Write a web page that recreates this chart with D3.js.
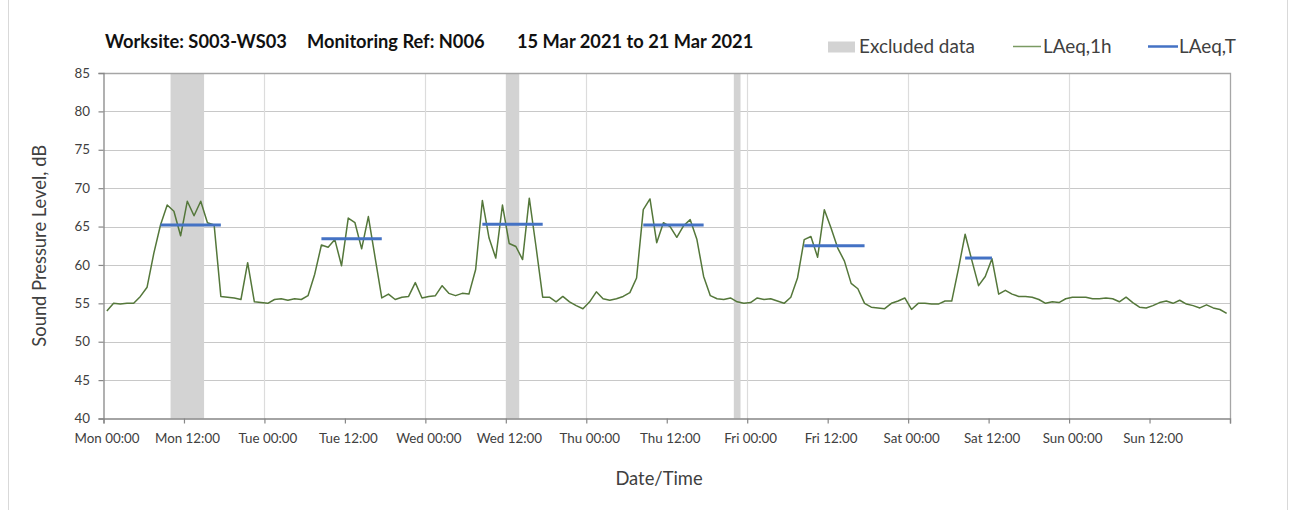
<!DOCTYPE html>
<html>
<head>
<meta charset="utf-8">
<script src="https://cdn.jsdelivr.net/npm/d3@7"></script>
<style>
  html, body { margin: 0; padding: 0; background: #fff; }
  svg { display: block; font-family: Lato, "Open Sans", sans-serif; }
</style>
</head>
<body>
<svg id="chart" width="1297" height="510"></svg>
<script>
// ---------------- DATA ----------------
const titleParts = ["Worksite: S003-WS03", "Monitoring Ref: N006", "15 Mar 2021 to 21 Mar 2021"];
const tickHours = [0, 12, 24, 36, 48, 60, 72, 84, 96, 108, 120, 132, 144, 156, 168];
const tickLabels = ["Mon 00:00", "Mon 12:00", "Tue 00:00", "Tue 12:00", "Wed 00:00", "Wed 12:00",
  "Thu 00:00", "Thu 12:00", "Fri 00:00", "Fri 12:00", "Sat 00:00", "Sat 12:00",
  "Sun 00:00", "Sun 12:00", ""];
const yTicks = [40, 45, 50, 55, 60, 65, 70, 75, 80, 85];

// hourly LAeq,1h (hour index 0 = Mon 00:00-01:00)
const laeq1h = [
  // Mon
  54.0, 55.0, 54.9, 55.0, 55.0, 55.9, 57.1, 61.5, 65.2, 67.8, 67.0, 63.8,
  68.3, 66.4, 68.3, 65.5, 65.2, 55.9, 55.8, 55.7, 55.5, 60.3, 55.2, 55.1,
  // Tue
  55.0, 55.5, 55.6, 55.4, 55.6, 55.5, 56.0, 58.8, 62.6, 62.3, 63.3, 59.9,
  66.1, 65.5, 62.1, 66.3, 61.0, 55.7, 56.2, 55.5, 55.8, 55.9, 57.7, 55.7,
  // Wed
  55.9, 56.0, 57.3, 56.3, 56.0, 56.3, 56.2, 59.4, 68.4, 63.5, 60.9, 67.8,
  62.8, 62.4, 60.7, 68.7, 62.4, 55.8, 55.8, 55.2, 55.9, 55.2, 54.7, 54.3,
  // Thu
  55.2, 56.5, 55.6, 55.4, 55.6, 55.9, 56.4, 58.3, 67.2, 68.6, 62.9, 65.5,
  65.0, 63.6, 65.1, 65.9, 63.3, 58.5, 56.0, 55.6, 55.5, 55.7, 55.2, 55.0,
  // Fri
  55.1, 55.7, 55.5, 55.6, 55.3, 55.0, 55.8, 58.3, 63.3, 63.7, 61.0, 67.2,
  64.8, 62.2, 60.5, 57.6, 56.9, 55.0, 54.5, 54.4, 54.3, 55.0, 55.3, 55.7,
  // Sat
  54.2, 55.0, 55.0, 54.9, 54.9, 55.3, 55.3, 59.5, 64.0, 60.6, 57.3, 58.5,
  60.8, 56.2, 56.7, 56.2, 55.9, 55.9, 55.8, 55.5, 55.0, 55.2, 55.1, 55.6,
  // Sun
  55.8, 55.8, 55.8, 55.6, 55.6, 55.7, 55.6, 55.2, 55.8, 55.1, 54.5, 54.4,
  54.7, 55.1, 55.3, 55.0, 55.4, 54.9, 54.7, 54.4, 54.8, 54.4, 54.2, 53.7
];

// LAeq,T working-period values (first and last hour index of each period)
const periodStart = [8, 32, 56, 80, 104, 128];
const periodEnd   = [17, 41, 65, 89, 113, 132];
const periodLAeqT = [65.2, 63.4, 65.3, 65.2, 62.5, 60.9];

// excluded data windows (hour index start / end)
const excludedStart = [10, 60, 94];
const excludedEnd   = [15, 62, 95];

const legendLabels = ["Excluded data", "LAeq,1h", "LAeq,T"];

// ---------------- DRAW ----------------
const svg = d3.select("#chart");
const M = { left: 103.5, right: 1230, top: 73, bottom: 418.5 };

const x = d3.scaleLinear().domain([0, 168]).range([M.left, M.right]);
const y = d3.scaleLinear().domain([40, 85]).range([M.bottom, M.top]);

const textCol = "#404040";
const fontStack = "Lato, 'Open Sans', sans-serif";

function fit(sel, target) {
  const base = 20;
  sel.attr("font-size", base);
  const w = sel.node().getComputedTextLength();
  const fs = base * target / w;
  sel.attr("font-size", fs);
  return fs;
}

// outer frame lines
svg.append("line").attr("x1", 8.5).attr("x2", 8.5).attr("y1", 0).attr("y2", 510)
  .attr("stroke", "#d9d9d9").attr("stroke-width", 1);
svg.append("line").attr("x1", 1287.5).attr("x2", 1287.5).attr("y1", 0).attr("y2", 510)
  .attr("stroke", "#d9d9d9").attr("stroke-width", 1);

// horizontal gridlines
svg.append("g").selectAll("line").data(yTicks.filter(d => d > 40 && d < 85)).join("line")
  .attr("x1", M.left).attr("x2", M.right)
  .attr("y1", d => Math.round(y(d)) + 0.5).attr("y2", d => Math.round(y(d)) + 0.5)
  .attr("stroke", "#c8c8c8").attr("stroke-width", 1.2);

// vertical gridlines (daily)
svg.append("g").selectAll("line").data(tickHours.filter(h => h % 24 === 0 && h > 0 && h < 168)).join("line")
  .attr("x1", d => Math.round(x(d)) + 0.5).attr("x2", d => Math.round(x(d)) + 0.5)
  .attr("y1", M.top).attr("y2", M.bottom)
  .attr("stroke", "#dcdcdc").attr("stroke-width", 1.2);

// excluded bands
svg.append("g").selectAll("rect").data(excludedStart).join("rect")
  .attr("x", (d) => x(d))
  .attr("width", (d, i) => x(excludedEnd[i]) - x(d))
  .attr("y", M.top).attr("height", M.bottom - M.top)
  .attr("fill", "#d3d3d3");

// plot border (top/right)
svg.append("path")
  .attr("d", `M${M.left},${M.top + 0.5}H${M.right + 0.5}V${M.bottom}`)
  .attr("fill", "none").attr("stroke", "#a6a6a6").attr("stroke-width", 1.3);

// LAeq,1h line
const line = d3.line().x((d, i) => x(i + 0.5)).y(d => y(d));
svg.append("path").datum(laeq1h)
  .attr("d", line)
  .attr("fill", "none").attr("stroke", "#54773a").attr("stroke-width", 1.5)
  .attr("stroke-linejoin", "round");

// LAeq,T lines
svg.append("g").selectAll("line").data(periodLAeqT).join("line")
  .attr("x1", (d, i) => x(periodStart[i] + 0.5))
  .attr("x2", (d, i) => x(periodEnd[i] + 0.5))
  .attr("y1", d => y(d)).attr("y2", d => y(d))
  .attr("stroke", "#4472c4").attr("stroke-width", 3);

// axes
const xAxis = d3.axisBottom(x).tickValues(tickHours).tickSize(5).tickFormat(() => "");
const gx = svg.append("g").attr("transform", `translate(0,${M.bottom})`).call(xAxis);
gx.select(".domain").attr("stroke", "#878787").attr("stroke-width", 1.3);
gx.selectAll(".tick line").attr("stroke", "#878787").attr("stroke-width", 1.2);

const yAxis = d3.axisLeft(y).tickValues(yTicks).tickSize(5).tickFormat(() => "");
const gy = svg.append("g").attr("transform", `translate(${M.left},0)`).call(yAxis);
gy.select(".domain").attr("stroke", "#878787").attr("stroke-width", 1.3);
gy.selectAll(".tick line").attr("stroke", "#878787").attr("stroke-width", 1.2);

// x tick labels
const xl = svg.append("g").attr("font-family", fontStack).attr("fill", textCol);
const probe = xl.append("text").text(tickLabels[0]);
const tickFs = fit(probe, 65);
probe.remove();
xl.selectAll("text").data(tickHours).join("text")
  .attr("x", d => x(d) + 3.5).attr("y", 443)
  .attr("text-anchor", "middle").attr("font-size", tickFs)
  .text((d, i) => tickLabels[i]);

// y tick labels
svg.append("g").attr("font-family", fontStack).attr("fill", textCol)
  .selectAll("text").data(yTicks).join("text")
  .attr("x", 90).attr("y", d => y(d)).attr("dy", "0.35em")
  .attr("text-anchor", "end").attr("font-size", tickFs)
  .text(d => d);

// title
const titleX = [105, 307, 517];
const tg = svg.append("g").attr("font-family", fontStack).attr("font-weight", "bold").attr("fill", "#111");
const t0 = tg.append("text").attr("x", titleX[0]).attr("y", 48).text(titleParts[0]);
const titleFs = fit(t0, 182);
titleParts.slice(1).forEach((p, i) => {
  tg.append("text").attr("x", titleX[i + 1]).attr("y", 48).attr("font-size", titleFs).text(p);
});

// legend
const lg = svg.append("g").attr("font-family", fontStack).attr("fill", textCol);
lg.append("rect").attr("x", 828).attr("y", 41.5).attr("width", 27).attr("height", 11).attr("fill", "#d3d3d3");
const l0 = lg.append("text").attr("x", 859).attr("y", 53).text(legendLabels[0]);
const legFs = fit(l0, 116);
lg.append("line").attr("x1", 1013).attr("x2", 1041).attr("y1", 46.5).attr("y2", 46.5)
  .attr("stroke", "#7a9a62").attr("stroke-width", 1.5);
lg.append("text").attr("x", 1043).attr("y", 53).attr("font-size", legFs).text(legendLabels[1]);
lg.append("line").attr("x1", 1148).attr("x2", 1178).attr("y1", 46.5).attr("y2", 46.5)
  .attr("stroke", "#4472c4").attr("stroke-width", 2.5);
lg.append("text").attr("x", 1179).attr("y", 53).attr("font-size", legFs).text(legendLabels[2]);

// axis titles
const yt = svg.append("text").attr("font-family", fontStack).attr("fill", textCol)
  .attr("text-anchor", "middle")
  .attr("transform", `translate(46,${(M.top + M.bottom) / 2}) rotate(-90)`)
  .text("Sound Pressure Level, dB");
const axFs = fit(yt, 202);
svg.append("text").attr("font-family", fontStack).attr("fill", textCol)
  .attr("text-anchor", "middle").attr("x", 659).attr("y", 485)
  .attr("font-size", axFs).text("Date/Time");
</script>
</body>
</html>
